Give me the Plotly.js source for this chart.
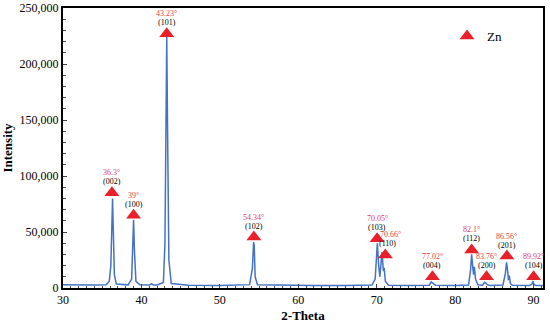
<!DOCTYPE html>
<html>
<head>
<meta charset="utf-8">
<script src="https://cdn.plot.ly/plotly-3.0.1.min.js"></script>
<style>html,body{margin:0;padding:0;background:#fff;}#chart{width:550px;height:324px;}</style>
</head>
<body>
<div id="chart"></div>
<script>
// XRD pattern points
const twoTheta = [30, 32, 34, 35.5, 35.9, 36.1, 36.25, 36.32, 36.4, 36.55, 36.8, 38.3, 38.75, 38.92, 39.0, 39.1, 39.3, 39.8, 41, 41.3, 41.5, 42, 42.8, 43.0, 43.15, 43.23, 43.32, 43.5, 43.8, 46, 50, 53.8, 54.15, 54.3, 54.38, 54.5, 54.8, 58, 62, 66, 69.4, 69.8, 70.0, 70.08, 70.25, 70.4, 70.55, 70.68, 70.85, 70.95, 71.1, 71.5, 74, 76.7, 76.95, 77.05, 77.2, 77.5, 80, 81.7, 81.95, 82.1, 82.2, 82.35, 82.45, 82.6, 82.9, 83.5, 83.75, 83.85, 84.0, 84.2, 84.5, 86.1, 86.4, 86.55, 86.65, 86.8, 86.9, 87.05, 87.3, 89.5, 89.8, 89.92, 90.05, 90.3, 91.2];
const intensity = [2800, 2500, 2600, 3000, 6000, 20000, 65000, 80000, 55000, 12000, 3500, 2800, 8000, 45000, 61000, 35000, 6000, 2800, 2600, 3800, 2600, 2700, 5000, 40000, 180000, 224000, 150000, 25000, 4000, 2500, 2300, 3000, 18000, 41000, 38000, 10000, 2800, 2300, 2200, 2300, 2600, 8000, 35000, 40000, 20000, 10000, 22000, 32000, 15000, 18000, 6000, 2500, 2200, 2500, 5500, 5000, 3800, 2400, 2200, 2600, 15000, 30000, 22000, 12000, 19000, 8000, 2800, 2500, 5000, 4500, 4000, 2600, 2300, 2700, 13000, 23000, 18000, 7000, 11000, 4000, 2400, 2300, 3500, 6000, 3000, 2300, 2200];

// Zn peak markers
const markX = [36.24, 39.0, 43.23, 54.34, 70.05, 71.1, 77.1, 82.1, 84.0, 86.6, 90.0];
const markY = [85000, 65000, 227000, 45500, 44000, 29500, 10000, 34000, 10000, 28500, 10000];
const angleLabels = ["36.3°", "39°", "43.23°", "54.34°", "70.05°", "70.66°", "77.02°", "82.1°", "83.76°", "86.56°", "89.92°"];
const hklLabels = ["(002)", "(100)", "(101)", "(102)", "(103)", "(110)", "(004)", "(112)", "(200)", "(201)", "(104)"];

const xTicks = [30, 40, 50, 60, 70, 80, 90];
const yTicks = [0, 50000, 100000, 150000, 200000, 250000];
const yTickText = ["0", "50,000", "100,000", "150,000", "200,000", "250,000"];

const serif = "Liberation Serif";

const traces = [
  {x: twoTheta, y: intensity, type: "scatter", mode: "lines",
   line: {color: "#4472c4", width: 1.5}, showlegend: false, hoverinfo: "skip"},
  {x: markX, y: markY, type: "scatter", mode: "markers", name: "Zn",
   marker: {symbol: "triangle-up", size: 13, color: "#e8202a"}}
];

const annotations = [];
markX.forEach((x, i) => {
  const dx = (i === 5) ? 5 : 0;
  annotations.push({x: x, y: markY[i], xref: "x", yref: "y", text: angleLabels[i],
    showarrow: false, yshift: 20, xshift: dx, font: {family: serif, size: 8, color: "#d9434f"}});
  annotations.push({x: x, y: markY[i], xref: "x", yref: "y", text: hklLabels[i],
    showarrow: false, yshift: 11, xshift: (i === 5) ? 2 : 0, font: {family: serif, size: 8, color: "#000"}});
});

const layout = {
  width: 550, height: 324,
  margin: {l: 63, r: 7, t: 8, b: 36},
  paper_bgcolor: "#fff", plot_bgcolor: "#fff",
  font: {family: serif, color: "#000"},
  xaxis: {range: [30, 91.2], tickvals: xTicks, ticks: "inside", ticklen: 4, tickwidth: 1,
    minor: {dtick: 1, ticks: "inside", ticklen: 2.5, tickwidth: 1},
    showgrid: false, zeroline: false, showline: true, linecolor: "#000", linewidth: 2, mirror: true,
    tickfont: {family: serif, size: 12, color: "#000"},
    title: {text: "<b>2-Theta</b>", font: {family: serif, size: 13, color: "#000"}, standoff: 4}},
  yaxis: {range: [0, 250000], tickvals: yTicks, ticktext: yTickText, ticks: "inside", ticklen: 4, tickwidth: 1,
    minor: {dtick: 10000, ticks: "inside", ticklen: 2.5, tickwidth: 1},
    showgrid: false, zeroline: false, showline: true, linecolor: "#000", linewidth: 2, mirror: true,
    tickfont: {family: serif, size: 12, color: "#000"},
    title: {text: "<b>Intensity</b>", font: {family: serif, size: 13, color: "#000"}, standoff: 6}},
  legend: {x: 0.8, y: 0.9, xanchor: "left", yanchor: "middle", bgcolor: "rgba(0,0,0,0)",
    font: {family: serif, size: 13, color: "#000"}, itemwidth: 30},
  annotations: annotations
};

Plotly.newPlot("chart", traces, layout, {displayModeBar: false, staticPlot: true});
</script>
</body>
</html>
